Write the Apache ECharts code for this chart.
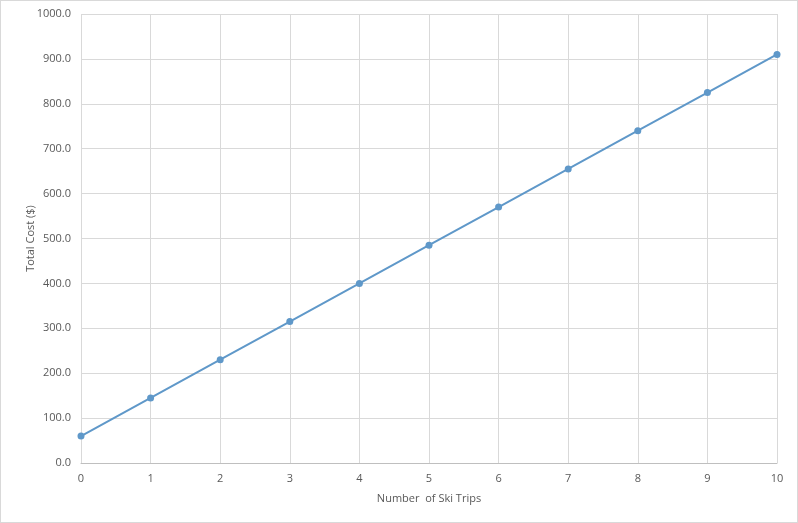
<!DOCTYPE html>
<html>
<head>
<meta charset="utf-8">
<script src="https://cdn.jsdelivr.net/npm/echarts@6/dist/echarts.min.js"></script>
<style>
html,body{margin:0;padding:0;background:#fff;}
#wrap{width:798px;height:523px;box-sizing:border-box;border:1px solid #d9d9d9;}
#chart{width:796px;height:521px;}
</style>
</head>
<body>
<div id="wrap"><div id="chart"></div></div>
<script>
const trips = [0, 1, 2, 3, 4, 5, 6, 7, 8, 9, 10];
const totalCost = [60, 145, 230, 315, 400, 485, 570, 655, 740, 825, 910];
const xTitle = "Number  of Ski Trips";
const yTitle = "Total Cost ($)";

const chart = echarts.init(document.getElementById('chart'));
const font = '"Open Sans", "Liberation Sans", sans-serif';
chart.setOption({
  animation: false,
  grid: {left: 80, right: 20, top: 13, bottom: 59},
  xAxis: {
    type: 'value', min: 0, max: 10, interval: 1,
    name: xTitle, nameLocation: 'middle', nameGap: 30, nameMoveOverlap: false,
    nameTextStyle: {color: '#595959', fontSize: 11, fontFamily: font},
    axisLine: {show: true, lineStyle: {color: '#bfbfbf'}},
    axisTick: {show: false},
    axisLabel: {color: '#595959', fontSize: 11, fontFamily: font, margin: 10},
    splitLine: {show: true, lineStyle: {color: '#d9d9d9'}}
  },
  yAxis: {
    type: 'value', min: 0, max: 1000, interval: 100,
    name: yTitle, nameLocation: 'middle', nameGap: 45, nameRotate: 90, nameMoveOverlap: false,
    nameTextStyle: {color: '#595959', fontSize: 11, fontFamily: font},
    axisLine: {show: false},
    axisTick: {show: false},
    axisLabel: {color: '#595959', fontSize: 11, fontFamily: font, margin: 10,
      formatter: v => v.toFixed(1)},
    splitLine: {show: true, lineStyle: {color: '#d9d9d9'}}
  },
  series: [{
    type: 'line',
    data: trips.map((t, i) => [t, totalCost[i]]),
    symbol: 'circle', symbolSize: 7,
    lineStyle: {color: '#5f98c9', width: 2},
    itemStyle: {color: '#5f98c9'}
  }]
});
</script>
</body>
</html>
